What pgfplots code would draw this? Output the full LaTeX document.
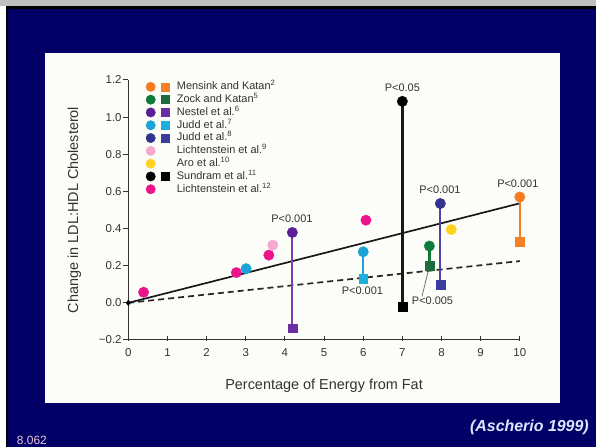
\documentclass[border=0pt]{standalone}
\usepackage{pgfplots}
\pgfplotsset{compat=1.18}
\usepackage{fontspec}
\setmainfont{Liberation Sans}
\definecolor{navy}{HTML}{020066}
\definecolor{panel}{HTML}{FCFCF8}
\definecolor{txt}{HTML}{333333}
\definecolor{axisgray}{HTML}{333333}
\definecolor{cOrange}{HTML}{F47B20}
\definecolor{cOrangeS}{HTML}{F58025}
\definecolor{cGreen}{HTML}{0F7B3A}
\definecolor{cGreenS}{HTML}{1B6E3C}
\definecolor{cPurple}{HTML}{5B1E96}
\definecolor{cPurpleS}{HTML}{6B2DA2}
\definecolor{cPurpleL}{HTML}{7B3FB0}
\definecolor{cCyan}{HTML}{19A3D6}
\definecolor{cCyanS}{HTML}{1DAEE0}
\definecolor{cBlue}{HTML}{33338F}
\definecolor{cBlueS}{HTML}{3C3C9C}
\definecolor{cBlueL}{HTML}{4848A4}
\definecolor{cPink}{HTML}{F6A9CF}
\definecolor{cYellow}{HTML}{FFD21F}
\definecolor{cMagenta}{HTML}{EC148C}
\definecolor{ftext}{HTML}{E6C6DA}
\definecolor{ctext}{HTML}{D8E8FF}
\newcommand{\legpair}[2]{\addlegendimage{legend image code/.code={\path (-5bp,0) (20bp,0); \fill[#1] (0bp,0bp) circle (4.7bp); \fill[#2] (11bp,-4bp) rectangle (19bp,4bp);}}}
\newcommand{\legone}[1]{\addlegendimage{legend image code/.code={\path (-5bp,0) (20bp,0); \fill[#1] (0bp,0bp) circle (4.7bp);}}}
\begin{document}
\begin{tikzpicture}
\fill[white] (0,0) rectangle (596bp,447bp);
\fill[black!25] (0,441bp) rectangle (596bp,447bp);
\fill[black] (5.7bp,0) rectangle (596bp,441bp);
\fill[navy] (8.3bp,0) rectangle (596bp,438.3bp);
\fill[panel] (45bp,43.7bp) rectangle (560bp,394.3bp);
\node[anchor=west, text=ftext, font=\fontsize{12}{14}\selectfont, inner sep=0pt] at (16.7bp,6.5bp) {8.062};
\node[anchor=east, text=ctext, font=\fontsize{16}{18}\selectfont\bfseries\itshape, inner sep=0pt] at (589bp,20bp) {(Ascherio 1999)};
\begin{axis}[
  at={(128.3bp,107bp)}, anchor=south west,
  scale only axis, width=391.5bp, height=260bp,
  xmin=0, xmax=10, ymin=-0.2, ymax=1.2,
  axis lines=left,
  axis line style={-, draw=axisgray, line width=1bp},
  clip=false,
  /pgf/number format/assume math mode=true,
  xtick={0,1,...,10},
  ytick={-0.2,0,0.2,0.4,0.6,0.8,1.0,1.2},
  yticklabels={−0.2,0.0,0.2,0.4,0.6,0.8,1.0,1.2},
  tick align=outside, major tick length=5bp,
  tick style={draw=axisgray, line width=1bp},
  xtick style={yshift=4bp},
  x tick label style={font=\fontsize{11.5}{13}\selectfont, text=txt},
  y tick label style={font=\fontsize{11.5}{13}\selectfont, text=txt, inner xsep=1.5bp},
  xlabel={Percentage of Energy from Fat},
  ylabel={Change in LDL:HDL Cholesterol},
  x label style={at={(axis description cs:0.5,-0.177)}, anchor=center, font=\fontsize{14.5}{16}\selectfont, text=txt},
  y label style={at={(axis description cs:-0.138,0.5)}, anchor=center, font=\fontsize{14.5}{16}\selectfont, text=txt},
  legend style={at={(0.0434,0.999)}, anchor=north west, draw=none, fill=none, inner sep=0pt,
    font=\fontsize{11}{12}\selectfont, text=txt, row sep=0pt,
    nodes={inner xsep=6bp, inner ysep=1bp, text height=8.3bp, text depth=2.5bp}},
  legend cell align=left,
]
% regression lines
\addplot[forget plot, draw=black!90, line width=1.7bp] coordinates {(0,0) (10,0.536)};
\addplot[forget plot, draw=black!85, line width=1.7bp, dash pattern=on 6bp off 4bp] coordinates {(0,0) (10,0.225)};
\addplot[forget plot, only marks, mark=diamond*, mark size=2.8bp, color=black] coordinates {(0,0)};
% connectors
\addplot[forget plot, draw=cOrange, line width=2.3bp] coordinates {(10,0.57) (10,0.33)};
\addplot[forget plot, draw=cGreen, line width=2.3bp] coordinates {(7.69,0.306) (7.69,0.198)};
\addplot[forget plot, draw=cPurpleL, line width=2.3bp] coordinates {(4.19,0.379) (4.19,-0.136)};
\addplot[forget plot, draw=cCyan, line width=2.3bp] coordinates {(6.0,0.275) (6.0,0.132)};
\addplot[forget plot, draw=cBlueL, line width=2.3bp] coordinates {(7.97,0.535) (7.97,0.097)};
\addplot[forget plot, draw=black!90, line width=2.3bp] coordinates {(7.0,1.085) (7.0,-0.02)};
% pointer
\addplot[forget plot, draw=black!55, line width=0.8bp] coordinates {(7.66,0.17) (7.5,0.034)};
% circles
\addplot[forget plot, only marks, mark=*, mark size=5.2bp, color=cOrange] coordinates {(10,0.57)};
\addplot[forget plot, only marks, mark=*, mark size=5.2bp, color=cGreen] coordinates {(7.69,0.306)};
\addplot[forget plot, only marks, mark=*, mark size=5.2bp, color=cPurple] coordinates {(4.19,0.379)};
\addplot[forget plot, only marks, mark=*, mark size=5.2bp, color=cCyan] coordinates {(6.0,0.275) (3.01,0.184)};
\addplot[forget plot, only marks, mark=*, mark size=5.2bp, color=cBlue] coordinates {(7.97,0.535)};
\addplot[forget plot, only marks, mark=*, mark size=5.2bp, color=cPink] coordinates {(3.69,0.311)};
\addplot[forget plot, only marks, mark=*, mark size=5.2bp, color=cYellow] coordinates {(8.25,0.395)};
\addplot[forget plot, only marks, mark=*, mark size=5.2bp, color=black] coordinates {(7.0,1.085)};
\addplot[forget plot, only marks, mark=*, mark size=5.2bp, color=cMagenta] coordinates {(0.39,0.057) (2.76,0.163) (3.59,0.257) (6.07,0.445)};
% squares
\addplot[forget plot, only marks, mark=square*, mark size=4.4bp, color=cOrangeS] coordinates {(10,0.33)};
\addplot[forget plot, only marks, mark=square*, mark size=4.4bp, color=cGreenS] coordinates {(7.69,0.198)};
\addplot[forget plot, only marks, mark=square*, mark size=4.4bp, color=cPurpleS] coordinates {(4.19,-0.136)};
\addplot[forget plot, only marks, mark=square*, mark size=4.4bp, color=cCyanS] coordinates {(6.0,0.132)};
\addplot[forget plot, only marks, mark=square*, mark size=4.4bp, color=cBlueS] coordinates {(7.97,0.097)};
\addplot[forget plot, only marks, mark=square*, mark size=4.4bp, color=black] coordinates {(7.0,-0.02)};
% annotations
\begin{scope}[every node/.style={font=\fontsize{11}{12}\selectfont, text=txt, inner sep=0pt}]
\node at (axis cs:7.0,1.158) {P<0.05};
\node at (axis cs:4.18,0.453) {P<0.001};
\node at (axis cs:5.98,0.0675) {P<0.001};
\node at (axis cs:7.96,0.607) {P<0.001};
\node at (axis cs:9.95,0.643) {P<0.001};
\node[anchor=west] at (axis cs:7.24,0.012) {P<0.005};
\end{scope}
% legend
\legpair{cOrange}{cOrangeS}\addlegendentry{Mensink and Katan\textsuperscript{2}}
\legpair{cGreen}{cGreenS}\addlegendentry{Zock and Katan\textsuperscript{5}}
\legpair{cPurple}{cPurpleS}\addlegendentry{Nestel et al.\textsuperscript{6}}
\legpair{cCyan}{cCyanS}\addlegendentry{Judd et al.\textsuperscript{7}}
\legpair{cBlue}{cBlueS}\addlegendentry{Judd et al.\textsuperscript{8}}
\legone{cPink}\addlegendentry{Lichtenstein et al.\textsuperscript{9}}
\legone{cYellow}\addlegendentry{Aro et al.\textsuperscript{10}}
\legpair{black}{black}\addlegendentry{Sundram et al.\textsuperscript{11}}
\legone{cMagenta}\addlegendentry{Lichtenstein et al.\textsuperscript{12}}
\end{axis}
\end{tikzpicture}
\end{document}
